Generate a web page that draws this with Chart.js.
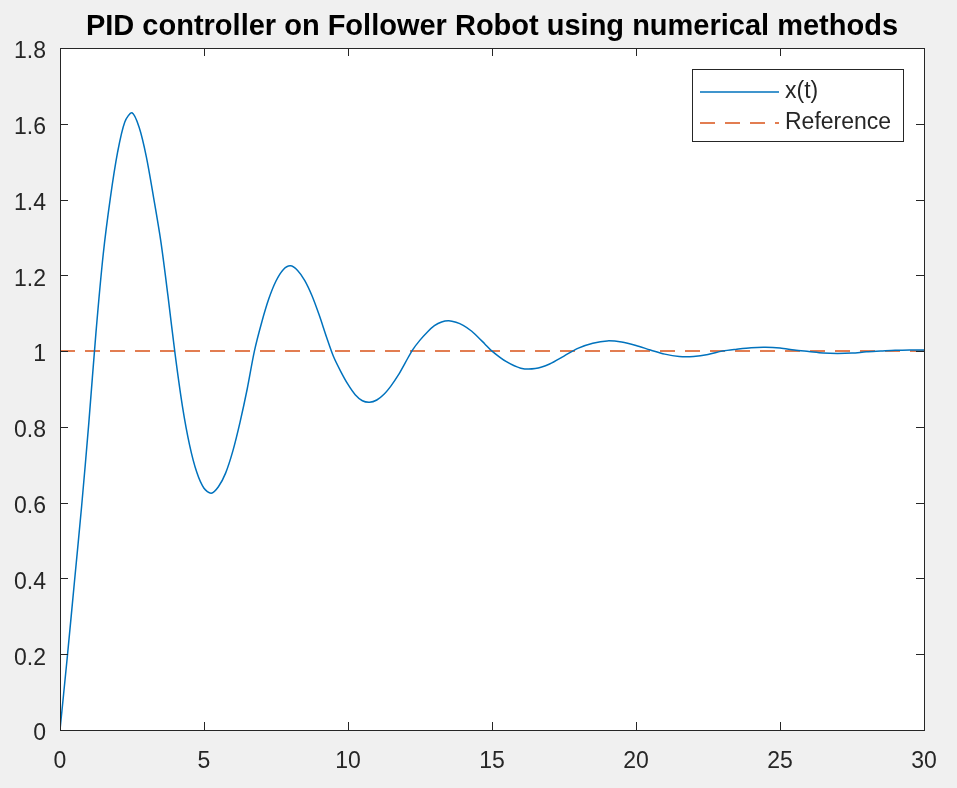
<!DOCTYPE html>
<html>
<head>
<meta charset="utf-8">
<script src="https://cdn.jsdelivr.net/npm/chart.js@4.4.0/dist/chart.umd.min.js"></script>
<style>
    body { margin: 0; background: #f0f0f0; }
    #wrap { width: 957px; height: 788px; }
</style>
</head>
<body>
<div id="wrap"><canvas id="pidChart"></canvas></div>
<script>
// Values
const timeValues = [0, 0.25, 0.5, 0.75, 1, 1.25, 1.5, 1.75, 2, 2.25, 2.5, 2.75, 3, 3.25, 3.5, 3.75, 4, 4.25, 4.5, 4.75,
    5, 5.25, 5.5, 5.75, 6, 6.25, 6.5, 6.75, 7, 7.25, 7.5, 7.75, 8, 8.25, 8.5, 8.75, 9, 9.25, 9.5, 9.75,
    10, 10.25, 10.5, 10.75, 11, 11.25, 11.5, 11.75, 12, 12.25, 12.5, 12.75, 13, 13.25, 13.5, 13.75, 14, 14.25, 14.5, 14.75,
    15, 15.5, 16, 16.5, 17, 17.5, 18, 18.5, 19, 19.5, 20, 20.5, 21, 21.5, 22, 22.5, 23, 23.5, 24, 24.5,
    25, 25.5, 26, 26.5, 27, 27.5, 28, 28.5, 29, 29.5, 30];
const xValues = [0, 0.19, 0.39, 0.59, 0.81, 1.05, 1.255, 1.405, 1.525, 1.605, 1.629, 1.59, 1.512, 1.405, 1.29, 1.145, 0.99, 0.855, 0.752, 0.68,
    0.638, 0.625, 0.642, 0.678, 0.736, 0.812, 0.9, 1.0, 1.075, 1.138, 1.185, 1.215, 1.225, 1.213, 1.186, 1.146, 1.095, 1.038, 0.985, 0.946,
    0.912, 0.885, 0.869, 0.865, 0.871, 0.886, 0.909, 0.937, 0.971, 1.004, 1.029, 1.05, 1.067, 1.077, 1.08, 1.076, 1.068, 1.055, 1.038, 1.019,
    1.0, 0.972, 0.955, 0.954, 0.966, 0.987, 1.008, 1.021, 1.027, 1.024, 1.015, 1.003, 0.992, 0.986, 0.986, 0.991, 1.0, 1.005, 1.009, 1.01,
    1.008, 1.003, 0.999, 0.995, 0.994, 0.995, 0.998, 1.0, 1.002, 1.003, 1.003];
const referenceTime = [0, 30];
const referenceValues = [1, 1];
const seriesLabels = ['x(t)', 'Reference'];
const chartTitle = 'PID controller on Follower Robot using numerical methods';
const xTicks = [0, 5, 10, 15, 20, 25, 30];
const yTicks = [0, 0.2, 0.4, 0.6, 0.8, 1, 1.2, 1.4, 1.6, 1.8];

const axisColor = '#262626';
const fontFamily = '"Liberation Sans", Arial, sans-serif';

function toPoints(xs, ys) {
    return xs.map((x, i) => ({ x: x, y: ys[i] }));
}

// white plot box, frame, inward ticks on all four sides, title and legend
const axesBox = {
    id: 'axesBox',
    beforeDraw(chart) {
        const a = chart.chartArea;
        const ctx = chart.ctx;
        ctx.save();
        ctx.fillStyle = '#ffffff';
        ctx.fillRect(a.left, a.top, a.right - a.left, a.bottom - a.top);
        ctx.restore();
    },
    afterDraw(chart) {
        const a = chart.chartArea;
        const ctx = chart.ctx;
        const xs = chart.scales.x;
        const ys = chart.scales.y;
        const len = 8;
        ctx.save();
        ctx.strokeStyle = axisColor;
        ctx.lineWidth = 1;
        ctx.beginPath();
        xTicks.forEach(v => {
            const px = Math.round(xs.getPixelForValue(v)) + 0.5;
            ctx.moveTo(px, a.bottom); ctx.lineTo(px, a.bottom - len);
            ctx.moveTo(px, a.top); ctx.lineTo(px, a.top + len);
        });
        yTicks.forEach(v => {
            const py = Math.round(ys.getPixelForValue(v)) + 0.5;
            ctx.moveTo(a.left, py); ctx.lineTo(a.left + len, py);
            ctx.moveTo(a.right, py); ctx.lineTo(a.right - len, py);
        });
        ctx.stroke();
        ctx.strokeRect(Math.round(a.left) + 0.5, Math.round(a.top) + 0.5,
            Math.round(a.right - a.left), Math.round(a.bottom - a.top));

        // title centred over the axes
        ctx.fillStyle = '#000000';
        ctx.font = 'bold 29px ' + fontFamily;
        ctx.textAlign = 'center';
        ctx.textBaseline = 'alphabetic';
        ctx.fillText(chartTitle, (a.left + a.right) / 2, 35);

        // legend box
        const bx = 692, by = 69, bw = 211, bh = 72;
        ctx.fillStyle = '#ffffff';
        ctx.fillRect(bx, by, bw, bh);
        ctx.strokeRect(bx + 0.5, by + 0.5, bw, bh);
        ctx.font = '23px ' + fontFamily;
        ctx.textAlign = 'left';
        ctx.textBaseline = 'middle';
        chart.data.datasets.forEach((ds, i) => {
            const rowY = by + 23 + i * 31;
            ctx.strokeStyle = ds.borderColor;
            ctx.lineWidth = ds.borderWidth;
            ctx.setLineDash(ds.borderDash || []);
            ctx.beginPath();
            ctx.moveTo(bx + 8, rowY);
            ctx.lineTo(bx + 87, rowY);
            ctx.stroke();
            ctx.setLineDash([]);
            ctx.fillStyle = axisColor;
            ctx.fillText(ds.label, bx + 93, rowY);
        });
        ctx.restore();
    }
};

const pidChart = new Chart(document.getElementById('pidChart'), {
    type: 'scatter',
    data: {
        datasets: [
            {
                label: seriesLabels[0],
                data: toPoints(timeValues, xValues),
                showLine: true,
                borderColor: '#0072BD',
                borderWidth: 1.5,
                pointRadius: 0,
                tension: 0.3
            },
            {
                label: seriesLabels[1],
                data: toPoints(referenceTime, referenceValues),
                showLine: true,
                borderColor: '#D95319',
                borderWidth: 1.5,
                borderDash: [15, 10],
                pointRadius: 0
            }
        ]
    },
    options: {
        responsive: true,
        maintainAspectRatio: false,
        animation: false,
        layout: { padding: { left: 0, right: 33, top: 48, bottom: 0 } },
        plugins: {
            legend: { display: false },
            tooltip: { enabled: false },
            title: { display: false }
        },
        scales: {
            x: {
                type: 'linear',
                min: 0,
                max: 30,
                afterBuildTicks: s => { s.ticks = xTicks.map(v => ({ value: v })); },
                afterFit: s => { s.height = 58; },
                grid: { display: false, drawTicks: false },
                border: { display: false },
                ticks: {
                    color: axisColor,
                    padding: 18,
                    maxRotation: 0,
                    font: { family: fontFamily, size: 23 }
                }
            },
            y: {
                type: 'linear',
                min: 0,
                max: 1.8,
                afterBuildTicks: s => { s.ticks = yTicks.map(v => ({ value: v })); },
                afterFit: s => { s.width = 60; },
                grid: { display: false, drawTicks: false },
                border: { display: false },
                ticks: {
                    color: axisColor,
                    padding: 14,
                    labelOffset: 4,
                    callback: v => String(v),
                    font: { family: fontFamily, size: 23 }
                }
            }
        }
    },
    plugins: [axesBox]
});
</script>
</body>
</html>
